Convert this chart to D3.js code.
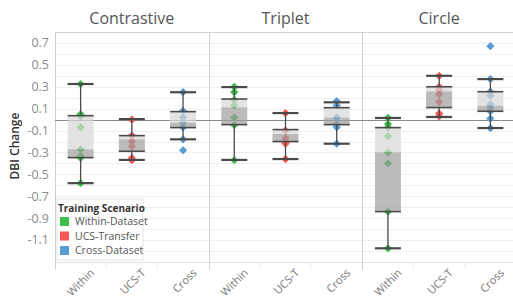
<!DOCTYPE html>
<html>
<head>
<meta charset="utf-8">
<script src="https://cdn.jsdelivr.net/npm/d3@7"></script>
<style>
  body { margin: 0; background: #fff; }
  svg { display: block; font-family: "Open Sans", sans-serif; }
</style>
</head>
<body>
<svg id="chart" width="513" height="302"></svg>
<script>
const methods = ["Contrastive", "Triplet", "Circle"];
const scenarios = ["Within", "UCS-T", "Cross"];
const legendLabels = ["Within-Dataset", "UCS-Transfer", "Cross-Dataset"];
const yTicks = [0.7, 0.5, 0.3, 0.1, -0.1, -0.3, -0.5, -0.7, -0.9, -1.1];

// points per scenario (Within, UCS-T, Cross)
const contrastivePoints = [
    [0.325, 0.05, 0.03, -0.07, -0.27, -0.33, -0.35, -0.58],
    [0.0, -0.146, -0.2, -0.245, -0.35, -0.37],
    [0.25, 0.08, 0.02, -0.03, -0.07, -0.18, -0.28]
];
const tripletPoints = [
    [0.30, 0.25, 0.18, 0.13, 0.02, -0.05, -0.37],
    [0.06, -0.1, -0.17, -0.21, -0.22, -0.36],
    [0.17, 0.13, 0.02, -0.04, -0.07, -0.22]
];
const circlePoints = [
    [0.015, -0.04, -0.07, -0.15, -0.3, -0.4, -0.84, -1.175],
    [0.40, 0.30, 0.27, 0.23, 0.16, 0.055, 0.03],
    [0.67, 0.37, 0.255, 0.22, 0.14, 0.105, 0.076, 0.01, -0.077]
];

// box stats: [lower whisker, q1, median, q3, upper whisker]
const contrastiveBoxes = [
    [-0.58, -0.347, -0.27, 0.036, 0.325],
    [-0.368, -0.289, -0.18, -0.146, 0.005],
    [-0.18, -0.073, -0.028, 0.073, 0.25]
];
const tripletBoxes = [
    [-0.368, -0.046, 0.112, 0.188, 0.297],
    [-0.36, -0.2, -0.131, -0.091, 0.06],
    [-0.22, -0.046, 0.018, 0.109, 0.158]
];
const circleBoxes = [
    [-1.175, -0.84, -0.298, -0.073, 0.015],
    [0.024, 0.11, 0.258, 0.30, 0.40],
    [-0.077, 0.076, 0.128, 0.255, 0.37]
];

const allPoints = [contrastivePoints, tripletPoints, circlePoints];
const allBoxes = [contrastiveBoxes, tripletBoxes, circleBoxes];

const colors = ["#3dbf4c", "#f85757", "#5b9bd5"];

const plot = { left: 55, right: 516, top: 32, bottom: 262 };
const boxW = 26;

const svg = d3.select("#chart");

const xOuter = d3.scaleBand().domain(methods).range([plot.left, plot.right]);
const xInner = d3.scaleBand().domain(scenarios).range([0, xOuter.bandwidth()]);
const y = d3.scaleLinear().domain([-1.3, 0.8]).range([plot.bottom, plot.top]);
const cx = (m, s) => xOuter(m) + xInner(s) + xInner.bandwidth() / 2;

// light gridlines every 0.1
const grid = d3.range(-12, 8).map(i => i / 10);
svg.append("g").selectAll("line").data(grid).enter().append("line")
    .attr("x1", plot.left).attr("x2", plot.right)
    .attr("y1", d => Math.round(y(d)) + 0.5).attr("y2", d => Math.round(y(d)) + 0.5)
    .attr("stroke", "#efefef").attr("stroke-width", 1);

// category separator ticks under the axis
const sepTicks = [];
methods.forEach(m => scenarios.slice(1).forEach(s => sepTicks.push(xOuter(m) + xInner(s))));
svg.append("g").selectAll("line").data(sepTicks).enter().append("line")
    .attr("x1", d => d).attr("x2", d => d).attr("y1", plot.bottom).attr("y2", plot.bottom + 7)
    .attr("stroke", "#eeeeee");

// frame: top line, panel dividers, bottom line
svg.append("line").attr("x1", plot.left).attr("x2", plot.right)
    .attr("y1", plot.top + 0.5).attr("y2", plot.top + 0.5).attr("stroke", "#d0d0d0");
svg.append("line").attr("x1", plot.left).attr("x2", plot.right)
    .attr("y1", plot.bottom + 0.5).attr("y2", plot.bottom + 0.5).attr("stroke", "#e2e2e2");
svg.append("g").selectAll("line").data(methods).enter().append("line")
    .attr("x1", d => Math.round(xOuter(d)) + 0.5).attr("x2", d => Math.round(xOuter(d)) + 0.5)
    .attr("y1", plot.top).attr("y2", plot.bottom + 8)
    .attr("stroke", "#d0d0d0");

// zero line
svg.append("line").attr("x1", plot.left).attr("x2", plot.right)
    .attr("y1", Math.round(y(0)) + 0.5).attr("y2", Math.round(y(0)) + 0.5)
    .attr("stroke", "#8a8a8a").attr("stroke-width", 1);

// panel titles
svg.append("g").selectAll("text").data(methods).enter().append("text")
    .attr("x", d => xOuter(d) + xOuter.bandwidth() / 2).attr("y", 24)
    .attr("text-anchor", "middle").attr("fill", "#555").style("font-size", "16px")
    .text(d => d);

// y axis labels
svg.append("g").selectAll("text").data(yTicks).enter().append("text")
    .attr("x", 49).attr("y", d => y(d)).attr("dy", "0.35em")
    .attr("text-anchor", "end").attr("fill", "#8c8c8c").style("font-size", "12.5px")
    .text(d => d3.format(".1f")(d).replace("−", "-"));

svg.append("text")
    .attr("transform", `translate(19,${146}) rotate(-90)`)
    .attr("text-anchor", "middle").attr("fill", "#333").style("font-size", "12px").style("font-weight", 600)
    .text("DBI Change");

// x labels (rotated, kept inside the frame)
const xLabels = [];
methods.forEach(m => scenarios.forEach(s => xLabels.push({ m, s })));
svg.append("g").selectAll("text").data(xLabels).enter().append("text")
    .attr("transform", d => `translate(${cx(d.m, d.s) + 9},${plot.bottom + 6}) rotate(-45)`)
    .attr("text-anchor", "end").attr("dy", "0.7em")
    .attr("fill", "#777").style("font-size", "11px")
    .text(d => d.s);

const diamond = d3.symbol().type(d3.symbolSquare).size(34);

methods.forEach((m, mi) => {
    const g = svg.append("g");
    scenarios.forEach((s, si) => {
        const x0 = cx(m, s);
        const pts = allPoints[mi][si];
        const [lo, q1, med, q3, hi] = allBoxes[mi][si];

        g.append("g").selectAll("path").data(pts).enter().append("path")
            .attr("d", diamond)
            .attr("transform", d => `translate(${x0},${y(d)}) rotate(45)`)
            .attr("fill", colors[si]);

        // box halves drawn over the points
        g.append("rect").attr("x", x0 - boxW / 2).attr("width", boxW)
            .attr("y", y(q3)).attr("height", y(med) - y(q3))
            .attr("fill", "#d8d8d8").attr("fill-opacity", 0.72);
        g.append("rect").attr("x", x0 - boxW / 2).attr("width", boxW)
            .attr("y", y(med)).attr("height", y(q1) - y(med))
            .attr("fill", "#9e9e9e").attr("fill-opacity", 0.7);

        // whiskers
        g.append("line").attr("x1", x0).attr("x2", x0).attr("y1", y(hi)).attr("y2", y(q3))
            .attr("stroke", "#4a4a4a").attr("stroke-width", 1.3);
        g.append("line").attr("x1", x0).attr("x2", x0).attr("y1", y(q1)).attr("y2", y(lo))
            .attr("stroke", "#4a4a4a").attr("stroke-width", 1.3);

        g.append("g").selectAll("line").data([lo, q1, q3, hi]).enter().append("line")
            .attr("x1", x0 - boxW / 2).attr("x2", x0 + boxW / 2)
            .attr("y1", d => y(d)).attr("y2", d => y(d))
            .attr("stroke", "#4a4a4a")
            .attr("stroke-width", (d, i) => (i === 0 || i === 3) ? 2.2 : 1.6);
    });
});

// legend
const lg = svg.append("g").attr("transform", "translate(57,199)");
lg.append("rect").attr("x", 0).attr("y", 0).attr("width", 86).attr("height", 61)
    .attr("fill", "#fff").attr("stroke", "#e4e4e4");
lg.append("text").attr("x", 1).attr("y", 13).attr("fill", "#333")
    .style("font-size", "10px").style("font-weight", 700).text("Training Scenario");
const items = lg.selectAll(".item").data(legendLabels).enter().append("g")
    .attr("transform", (d, i) => `translate(3,${18 + i * 14.5})`);
items.append("rect").attr("width", 9).attr("height", 9).attr("fill", (d, i) => colors[i]);
items.append("text").attr("x", 15).attr("y", 4.5).attr("dy", "0.35em")
    .attr("fill", "#555").style("font-size", "10.5px").text(d => d);
</script>
</body>
</html>
